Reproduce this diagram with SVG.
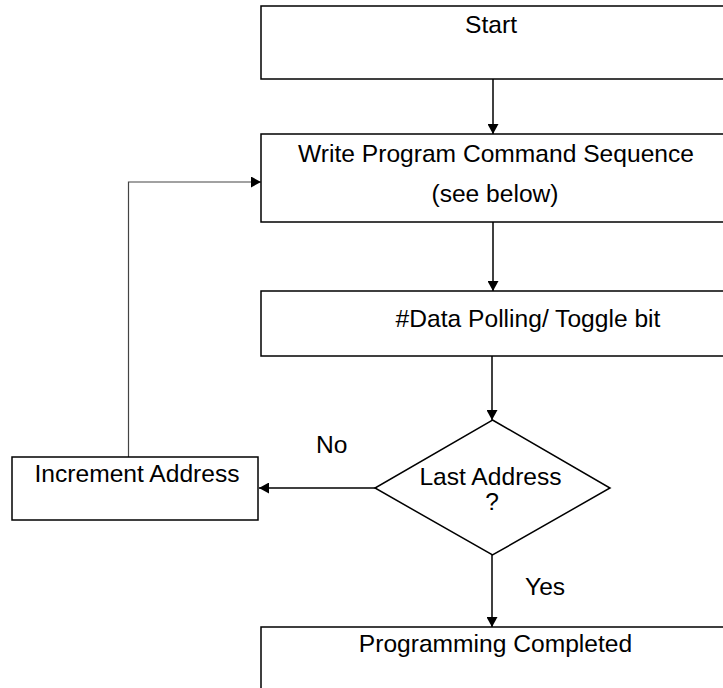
<svg xmlns="http://www.w3.org/2000/svg" width="723" height="688" viewBox="0 0 723 688">
<style>
.box{fill:#fff;stroke:#000;stroke-width:1.5}
.t{font-family:"Liberation Sans",Arial,sans-serif;font-size:24.6px;fill:#000}
.c{text-anchor:middle}
.ln{fill:none;stroke:#000;stroke-width:1.5}
.fb{fill:none;stroke:#444;stroke-width:1.2}
</style>
<defs>
<marker id="ah" markerUnits="userSpaceOnUse" markerWidth="10" markerHeight="11" refX="10" refY="5.5" orient="auto">
<path d="M0,0 L10,5.5 L0,11 z" fill="#000"/>
</marker>
</defs>
<rect width="723" height="688" fill="#fff"/>
<g id="connectors">
<line class="ln" x1="493" y1="79" x2="493" y2="134" marker-end="url(#ah)"/>
<line class="ln" x1="493" y1="222" x2="493" y2="291" marker-end="url(#ah)"/>
<line class="ln" x1="492" y1="356" x2="492" y2="420" marker-end="url(#ah)"/>
<line class="ln" x1="375" y1="488" x2="259" y2="488" marker-end="url(#ah)"/>
<line class="ln" x1="492" y1="555" x2="492" y2="627" marker-end="url(#ah)"/>
<path class="fb" d="M128.5,457 V182 H261" marker-end="url(#ah)"/>
</g>
<g id="start">
<rect class="box" x="261" y="6" width="470" height="73"/>
<text class="t c" x="491" y="33">Start</text>
</g>
<g id="write">
<rect class="box" x="261" y="134" width="470" height="88"/>
<text class="t c" x="496" y="162">Write Program Command Sequence</text>
<text class="t c" x="495" y="202">(see below)</text>
</g>
<g id="poll">
<rect class="box" x="261" y="291" width="470" height="65"/>
<text class="t c" x="528" y="327">#Data Polling/ Toggle bit</text>
</g>
<g id="decision">
<polygon class="box" points="492.5,420 610,488 492.5,555 375,488"/>
<text class="t c" x="490.5" y="485">Last Address</text>
<text class="t c" x="492" y="510">?</text>
</g>
<g id="increment">
<rect class="box" x="12" y="457" width="246" height="63"/>
<text class="t c" x="137" y="482">Increment Address</text>
</g>
<g id="done">
<rect class="box" x="261" y="627" width="470" height="80"/>
<text class="t c" x="495.5" y="652">Programming Completed</text>
</g>
<g id="labels">
<text class="t" x="316" y="453">No</text>
<text class="t" x="525" y="595">Yes</text>
</g>
</svg>
